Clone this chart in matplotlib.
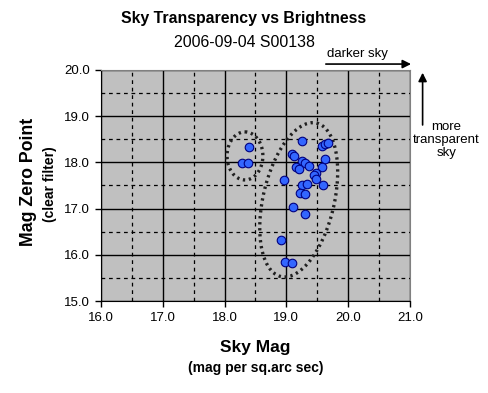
import numpy as np
import matplotlib
matplotlib.use("Agg")
from matplotlib import pyplot as plt

plt.rcParams['font.family'] = ['Liberation Sans', 'DejaVu Sans']

# sky brightness (mag per sq.arc sec) and zero point (clear filter)
sky_mag = [18.39, 18.28, 18.38,
           19.26, 19.58, 19.63, 19.68, 19.09, 19.12, 19.62, 19.26, 19.30,
           19.37, 19.16, 19.20, 19.58, 18.96, 19.48, 19.45, 19.48, 19.59,
           19.26, 19.33, 19.22, 19.30, 19.10, 19.30, 18.92, 18.97, 19.09]
zero_point = [18.34, 17.99, 17.98,
              18.46, 18.36, 18.40, 18.43, 18.18, 18.13, 18.08, 18.04, 17.99,
              17.92, 17.89, 17.86, 17.89, 17.62, 17.76, 17.72, 17.65, 17.50,
              17.50, 17.53, 17.34, 17.32, 17.04, 16.88, 16.31, 15.84, 15.83]

x_ticks = [16.0, 17.0, 18.0, 19.0, 20.0, 21.0]
y_ticks = [15.0, 16.0, 17.0, 18.0, 19.0, 20.0]

# ellipses: centre, half-axis vector 1, half-axis vector 2 (data units)
small_group = [(18.33, 18.14), (0.0, 0.52), (0.29, 0.0)]
big_group = [(19.20, 17.19), (0.29, 1.66), (0.56, -0.18)]

navy = "#000080"

fig = plt.figure(figsize=(4.88, 3.93), dpi=100)
ax = fig.add_axes([0.207, 0.234, 0.633, 0.588])
ax.set_facecolor("#c0c0c0")

ax.set_xlim(16, 21)
ax.set_ylim(15, 20)
ax.set_xticks(x_ticks)
ax.set_yticks(y_ticks)
ax.set_xticklabels([f"{v:.1f}" for v in x_ticks])
ax.set_yticklabels([f"{v:.1f}" for v in y_ticks])
ax.set_xticks(np.arange(16.5, 21, 1.0), minor=True)
ax.set_yticks(np.arange(15.5, 20, 1.0), minor=True)
ax.tick_params(which="major", direction="out", length=4, width=1, labelsize=9.5, pad=4)
ax.tick_params(which="minor", length=0)
ax.grid(which="major", color="black", linewidth=1)
ax.grid(which="minor", color="black", linewidth=0.9, linestyle=(0, (3, 3)))
ax.set_axisbelow(True)
for side in ["top", "right"]:
    ax.spines[side].set_color("#808080")
for side in ["left", "bottom"]:
    ax.spines[side].set_color("black")

ax.scatter(sky_mag, zero_point, s=38, color="#3366ff", edgecolor=navy,
           linewidth=0.8, zorder=4)

t = np.linspace(0, 2 * np.pi, 200)
for (cx, cy), (ax1, ay1), (bx1, by1) in [small_group, big_group]:
    ex = cx + ax1 * np.cos(t) + bx1 * np.sin(t)
    ey = cy + ay1 * np.cos(t) + by1 * np.sin(t)
    ax.plot(ex, ey, color="#202020", linewidth=2.4, linestyle=(0, (0.7, 1.1)),
            zorder=3)

fig.text(0.5, 0.953, "Sky Transparency vs Brightness", ha="center", va="center",
         fontsize=11.4, fontweight="bold")
fig.text(0.5, 0.891, "2006-09-04 S00138", ha="center", va="center", fontsize=11.4)

fig.text(0.524, 0.117, "Sky Mag", ha="center", va="center", fontsize=12.5,
         fontweight="bold")
fig.text(0.524, 0.064, "(mag per sq.arc sec)", ha="center", va="center",
         fontsize=10, fontweight="bold")
fig.text(0.058, 0.537, "Mag Zero Point", ha="center", va="center", rotation=90,
         fontsize=12.8, fontweight="bold")
fig.text(0.102, 0.532, "(clear filter)", ha="center", va="center", rotation=90,
         fontsize=10, fontweight="bold")

# direction hints
fig.text(0.732, 0.862, "darker sky", ha="center", va="center", fontsize=9.5)
fig.patches.append(matplotlib.patches.FancyArrowPatch(
    (0.662, 0.837), (0.848, 0.837), transform=fig.transFigure,
    arrowstyle="-|>,head_length=5,head_width=2.5", color="black", lw=1.2))
fig.patches.append(matplotlib.patches.FancyArrowPatch(
    (0.866, 0.675), (0.866, 0.822), transform=fig.transFigure,
    arrowstyle="-|>,head_length=5,head_width=2.5", color="black", lw=1.2))
fig.text(0.915, 0.644, "more\ntransparent\nsky", ha="center", va="center",
         fontsize=9.5, linespacing=1.15)

fig.savefig("out.png", dpi=100)
